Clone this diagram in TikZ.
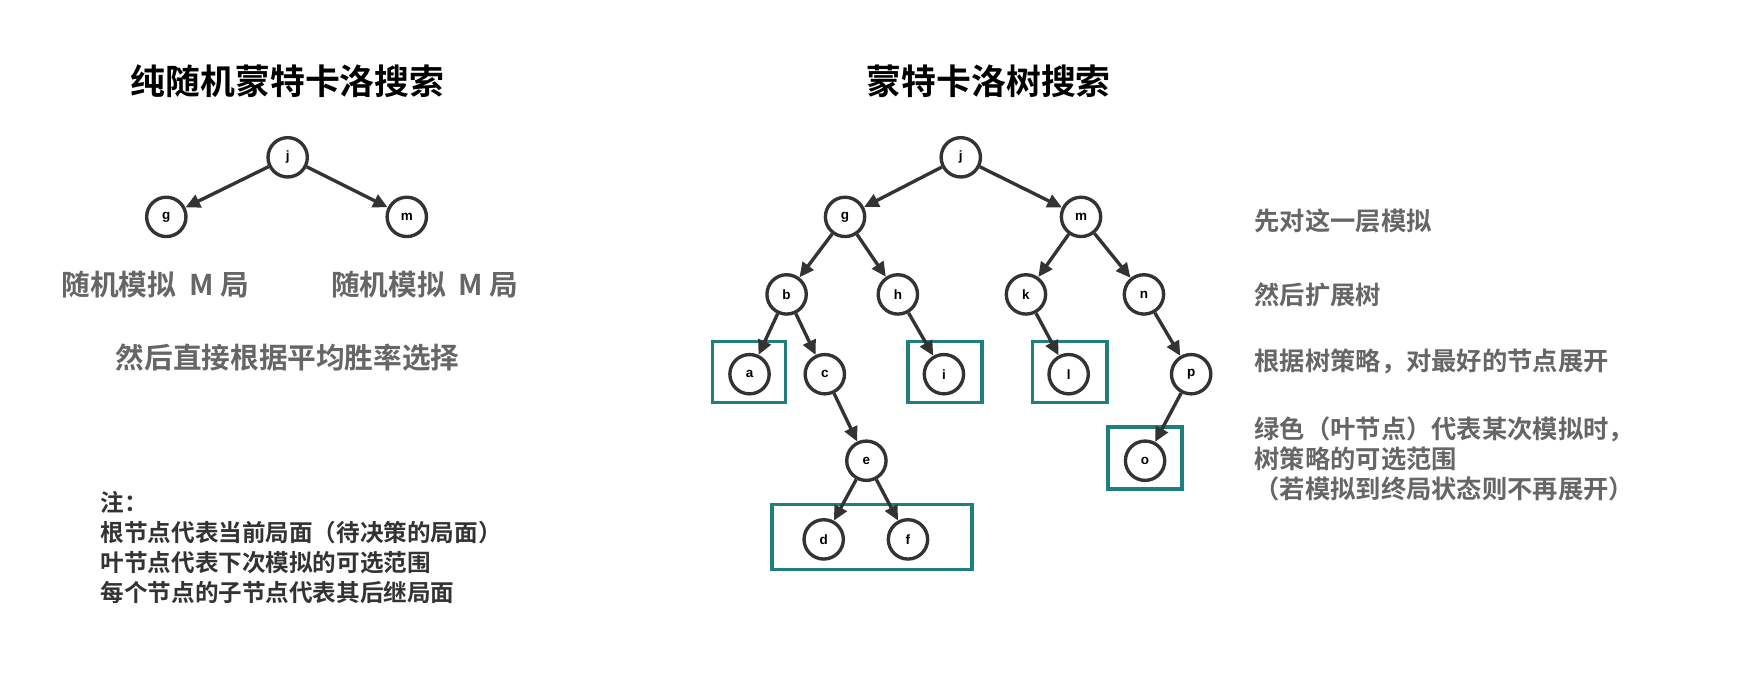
\documentclass[tikz,border=0pt]{standalone}
\usepackage{fontspec}
\setmainfont{Liberation Sans}
\newfontfamily\cjk{Noto Sans CJK SC}[BoldFont={Noto Sans CJK SC Bold}]
\usetikzlibrary{arrows.meta}
\definecolor{teal1}{HTML}{1F7F7F}
\definecolor{dk}{HTML}{333333}
\definecolor{gr}{HTML}{666666}
\begin{document}
\begin{tikzpicture}[x=1pt,y=-1pt,
  nd/.style={circle,draw=dk,line width=3pt,minimum size=35pt,inner sep=0pt,fill=white,font=\fontsize{12}{12}\selectfont\bfseries},
  ar/.style={draw=dk,line width=3pt,-{Triangle[length=13pt,width=12pt]}},
  bx/.style={draw=teal1,line width=3pt},
  ttl/.style={font=\cjk\bfseries\fontsize{31}{36}\selectfont,text=black},
  lb/.style={font=\cjk\bfseries\fontsize{22.5}{28}\selectfont,text=gr},
  lbl/.style={font=\cjk\bfseries\fontsize{25.5}{30}\selectfont,text=gr},
  nt/.style={font=\cjk\bfseries\fontsize{21}{26.5}\selectfont,text=dk,align=left,anchor=north west}]
\useasboundingbox (0,0) rectangle (1568,599);
% boxes
\draw[bx] (634,304) rectangle (699,358);
\draw[bx] (808,304) rectangle (874,358);
\draw[bx] (919,304) rectangle (985,358);
\draw[bx] (986,380) rectangle (1052,435);
\draw[bx] (687,449) rectangle (865,507);
% left tree
\node[nd] (Lj) at (256,140) {j};
\node[nd] (Lg) at (148,193) {g};
\node[nd] (Lm) at (362,193) {m};
\draw[ar] (Lj) -- (Lg); \draw[ar] (Lj) -- (Lm);
% right tree
\node[nd] (j) at (855,140) {j};
\node[nd] (g) at (752,193) {g};
\node[nd] (m) at (962,193) {m};
\node[nd] (b) at (700,262) {b};
\node[nd] (h) at (799,262) {h};
\node[nd] (k) at (913,262) {k};
\node[nd] (n) at (1018,262) {n};
\node[nd] (a) at (667,333) {a};
\node[nd] (c) at (734,333) {c};
\node[nd] (i) at (840,333) {i};
\node[nd] (l) at (951,333) {l};
\node[nd] (p) at (1060,333) {p};
\node[nd] (e) at (771,410) {e};
\node[nd] (o) at (1019,410) {o};
\node[nd] (d) at (733,480) {d};
\node[nd] (f) at (808,480) {f};
\foreach \s/\t in {j/g,j/m,g/b,g/h,m/k,m/n,b/a,b/c,h/i,k/l,n/p,c/e,p/o,e/d,e/f}
  \draw[ar] (\s) -- (\t);
% texts
\node[ttl] (t1) at (256,72) {纯随机蒙特卡洛搜索};
\node[ttl] (t2) at (880,72) {蒙特卡洛树搜索};
\node[lbl] (s1) at (138,253) {随机模拟\ \ M\ 局};
\node[lbl] (s2) at (378,253) {随机模拟\ \ M\ 局};
\node[lbl] (s3) at (256,318) {然后直接根据平均胜率选择};
\node[nt] (note) at (86,434) {注：\\根节点代表当前局面（待决策的局面）\\叶节点代表下次模拟的可选范围\\每个节点的子节点代表其后继局面};
\node[lb,anchor=west] (r1) at (1113,197) {先对这一层模拟};
\node[lb,anchor=west] (r2) at (1113,262) {然后扩展树};
\node[lb,anchor=west] (r3) at (1113,322) {根据树策略，对最好的节点展开};
\node[lb,anchor=north west,align=left,font=\cjk\bfseries\fontsize{22.5}{27}\selectfont] (r4) at (1113,367) {绿色（叶节点）代表某次模拟时，\\树策略的可选范围\\（若模拟到终局状态则不再展开）};
\end{tikzpicture}
\end{document}
